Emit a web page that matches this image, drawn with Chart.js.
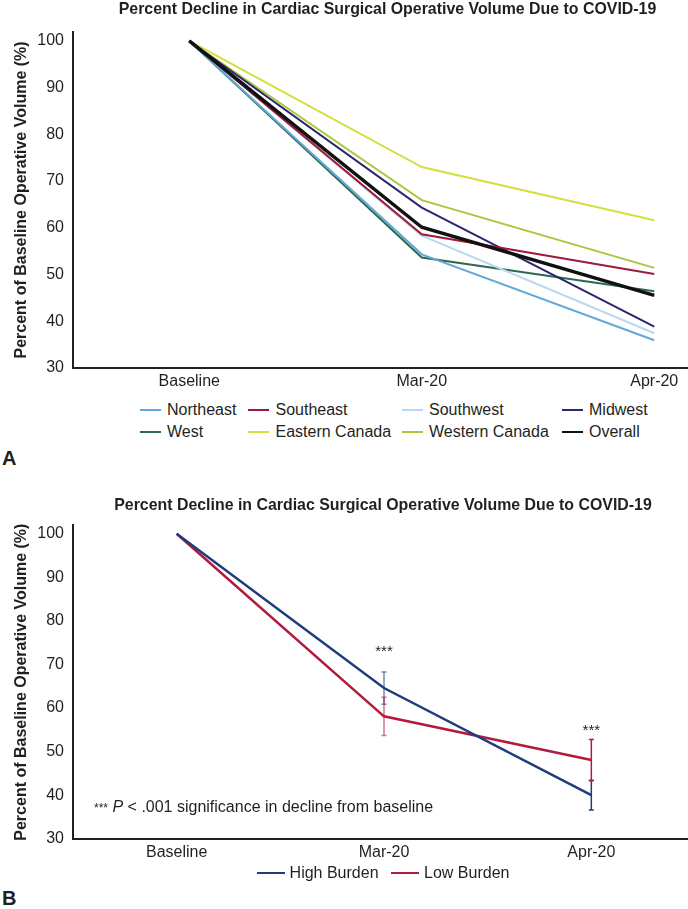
<!DOCTYPE html>
<html>
<head>
<meta charset="utf-8">
<script src="https://cdn.jsdelivr.net/npm/chart.js@4.4.1/dist/chart.umd.min.js"></script>
<style>
    html, body { margin: 0; padding: 0; background: #fff; }
    body {
        width: 688px; height: 909px; overflow: hidden; position: relative;
        font-family: "Liberation Sans", Arial, Helvetica, sans-serif; color: #231f20;
    }
    canvas { position: absolute; left: 0; }
    #grafico-a { top: 0; }
    #grafico-b { top: 492px; }
    #legenda-a {
        position: absolute; left: 139.5px; top: 399px;
        display: grid; grid-template-columns: 108.5px 153.5px 160px auto;
        font-size: 16px; line-height: 22px;
    }
    #legenda-a .amostra { width: 21px; height: 2px; margin-right: 6.5px; }
    #legenda-b {
        position: absolute; left: 0; top: 862px; width: 766px;
        display: flex; justify-content: center; gap: 12.5px;
        font-size: 16px; line-height: 22px;
    }
    #legenda-b .amostra { width: 28px; height: 2.5px; margin-right: 5px; }
    .item-legenda { display: flex; align-items: center; white-space: nowrap; }
    .letra { position: absolute; left: 2px; font-weight: bold; font-size: 20px; line-height: 24px; }
    .nota { position: absolute; left: 94px; top: 796px; font-size: 16px; line-height: 22px; white-space: nowrap; }
    .nota .estrelas { font-size: 12px; }
</style>
</head>
<body>
<canvas id="grafico-a" width="775" height="396"></canvas>
<div id="legenda-a"></div>
<div class="letra" style="top:446px">A</div>
<canvas id="grafico-b" width="766" height="375"></canvas>
<div class="nota"><span class="estrelas">***</span> <i>P</i> &lt; .001 significance in decline from baseline</div>
<div id="legenda-b"></div>
<div class="letra" style="top:886px">B</div>
<script>
const categorias = ['Baseline', 'Mar-20', 'Apr-20'];
const ticksY = [30, 40, 50, 60, 70, 80, 90, 100];

// Painel A - regioes
const regioes = ['Northeast', 'Southeast', 'Southwest', 'Midwest', 'West', 'Eastern Canada', 'Western Canada', 'Overall'];
const northeast = [100, 54.3, 35.9];
const southeast = [100, 58.6, 50.1];
const southwest = [100, 58.3, 37.4];
const midwest = [100, 64.3, 38.8];
const west = [100, 53.6, 46.4];
const easternCanada = [100, 73.0, 61.6];
const westernCanada = [100, 65.9, 51.4];
const overall = [100, 60.1, 45.5];
const coresRegioes = ['#62a8d8', '#9e1b3a', '#b9d9f2', '#2b2670', '#2e6a50', '#d4df3f', '#a9c83c', '#111111'];

// Painel B - carga de COVID
const grupos = ['High Burden', 'Low Burden'];
const highBurden = [100, 64.6, 40.0];
const lowBurden = [100, 58.1, 48.1];
const erroHighBurden = [0, 3.7, 3.4];
const erroLowBurden = [0, 4.4, 4.7];
const coresGrupos = ['#1f3c7c', '#b01b3e'];
const marcasSignificancia = ['', '***', '***'];
const alturaSignificancia = [null, 74.2, 56.0];

const fonte = '"Liberation Sans", Arial, Helvetica, sans-serif';
const corTexto = '#231f20';
const tituloGrafico = 'Percent Decline in Cardiac Surgical Operative Volume Due to COVID-19';

const pluginBarrasErro = {
    id: 'barrasErro',
    beforeDatasetsDraw(chart) {
        const { ctx, scales: { x, y } } = chart;
        chart.data.datasets.forEach((conjunto) => {
            if (!conjunto.erros) {
                return;
            }
            conjunto.data.forEach((valor, i) => {
                const erro = conjunto.erros[i];
                if (!erro) {
                    return;
                }
                const px = x.getPixelForValue(i);
                const topo = y.getPixelForValue(valor + erro);
                const base = y.getPixelForValue(valor - erro);
                ctx.save();
                ctx.globalAlpha = i === 1 ? 0.6 : 1;
                ctx.strokeStyle = conjunto.borderColor;
                ctx.lineWidth = 1.5;
                ctx.beginPath();
                ctx.moveTo(px, topo);
                ctx.lineTo(px, base);
                ctx.moveTo(px - 2.5, topo);
                ctx.lineTo(px + 2.5, topo);
                ctx.moveTo(px - 2.5, base);
                ctx.lineTo(px + 2.5, base);
                ctx.stroke();
                ctx.restore();
            });
        });
    },
    afterDatasetsDraw(chart, args, opcoes) {
        if (!opcoes.marcas) {
            return;
        }
        const { ctx, scales: { x, y } } = chart;
        ctx.save();
        ctx.font = `15px ${fonte}`;
        ctx.fillStyle = corTexto;
        ctx.textAlign = 'center';
        ctx.textBaseline = 'alphabetic';
        opcoes.marcas.forEach((marca, i) => {
            if (!marca) {
                return;
            }
            ctx.fillText(marca, x.getPixelForValue(i), y.getPixelForValue(opcoes.alturas[i]) + 10);
        });
        ctx.restore();
    }
};

function criarOpcoes(paddingTitulo, larguraDireita) {
    return {
        responsive: false,
        animation: false,
        plugins: {
            legend: { display: false },
            title: {
                display: true,
                text: tituloGrafico,
                color: corTexto,
                font: { family: fonte, size: 15.9, weight: 'bold' },
                padding: paddingTitulo
            },
            tooltip: { enabled: false }
        },
        elements: {
            point: { radius: 0 },
            line: { tension: 0 }
        },
        scales: {
            x: {
                type: 'category',
                offset: true,
                grid: { display: false, drawTicks: false },
                border: { display: true, color: corTexto, width: 2 },
                ticks: { color: corTexto, font: { family: fonte, size: 16 }, padding: 4.5, maxRotation: 0 }
            },
            y: {
                min: 30,
                max: 101.9,
                grid: { display: false, drawTicks: false },
                border: { display: true, color: corTexto, width: 2 },
                ticks: { color: corTexto, font: { family: fonte, size: 16 }, padding: 9 },
                afterBuildTicks(escala) {
                    escala.ticks = ticksY.map((valor) => ({ value: valor }));
                },
                afterFit(escala) {
                    escala.width = 73;
                },
                title: {
                    display: true,
                    text: 'Percent of Baseline Operative Volume (%)',
                    color: corTexto,
                    font: { family: fonte, size: 16, weight: 'bold' },
                    padding: { top: 12, bottom: 0 }
                }
            },
            direita: {
                type: 'linear',
                position: 'right',
                grid: { display: false, drawTicks: false },
                border: { display: false },
                ticks: { display: false },
                afterFit(escala) {
                    escala.width = larguraDireita;
                }
            }
        }
    };
}

function montarLegenda(elementoId, grafico) {
    const legenda = document.getElementById(elementoId);
    grafico.data.datasets.forEach((conjunto) => {
        const item = document.createElement('div');
        item.className = 'item-legenda';
        const amostra = document.createElement('span');
        amostra.className = 'amostra';
        amostra.style.background = conjunto.borderColor;
        item.appendChild(amostra);
        item.appendChild(document.createTextNode(conjunto.label));
        legenda.appendChild(item);
    });
}

const seriesRegioes = [northeast, southeast, southwest, midwest, west, easternCanada, westernCanada, overall];

const graficoA = new Chart(document.getElementById('grafico-a'), {
    type: 'line',
    data: {
        labels: categorias,
        datasets: regioes.map((nome, i) => ({
            label: nome,
            data: seriesRegioes[i],
            borderColor: coresRegioes[i],
            backgroundColor: coresRegioes[i],
            borderWidth: nome === 'Overall' ? 3.5 : 2,
            order: nome === 'Overall' ? -1 : i
        }))
    },
    options: criarOpcoes({ top: 0, bottom: 13 }, 4.5)
});
montarLegenda('legenda-a', graficoA);

const opcoesB = criarOpcoes({ top: 3.7, bottom: 10.7 }, 71);
opcoesB.plugins.barrasErro = { marcas: marcasSignificancia, alturas: alturaSignificancia };

const graficoB = new Chart(document.getElementById('grafico-b'), {
    type: 'line',
    data: {
        labels: categorias,
        datasets: [
            { label: grupos[0], data: highBurden, erros: erroHighBurden, borderColor: coresGrupos[0], backgroundColor: coresGrupos[0], borderWidth: 2.5 },
            { label: grupos[1], data: lowBurden, erros: erroLowBurden, borderColor: coresGrupos[1], backgroundColor: coresGrupos[1], borderWidth: 2.5 }
        ]
    },
    options: opcoesB,
    plugins: [pluginBarrasErro]
});
montarLegenda('legenda-b', graficoB);
</script>
</body>
</html>
